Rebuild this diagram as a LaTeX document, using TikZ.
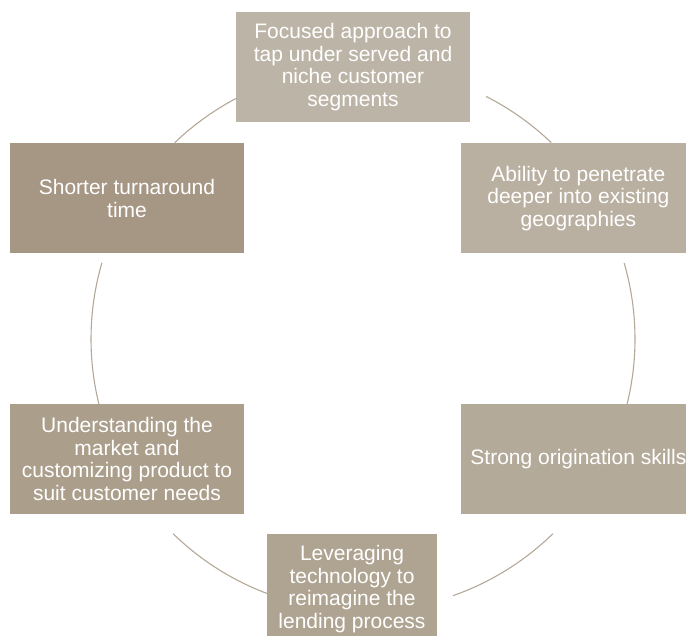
\documentclass[tikz,border=0pt]{standalone}
\usepackage{fontspec}
\setmainfont{Liberation Sans}
\usepackage{tikz}
\usetikzlibrary{positioning}
\usepackage{xcolor}
\definecolor{sand1}{HTML}{BCB4A7}
\definecolor{sand2}{HTML}{B9B0A2}
\definecolor{sand3}{HTML}{B3AA9A}
\definecolor{sand4}{HTML}{AFA492}
\definecolor{sand5}{HTML}{AB9F8C}
\definecolor{sand6}{HTML}{A69684}
\definecolor{ringline}{HTML}{B4A898}

\begin{document}
\begin{tikzpicture}[
    x=1pt,y=1pt,
    node distance=150pt and 217pt,
    card/.style={rectangle,minimum width=234pt,minimum height=110pt,inner sep=0pt,align=center,text=white,font=\fontsize{21}{22.5}\selectfont},
    ring/.style={draw=ringline,line width=1.1pt}
]
\useasboundingbox (0,0) rectangle (686,636);
\clip (0,0) rectangle (686,636);
\coordinate (C) at (363,297);

% ring segments between the cards
\foreach \a/\b in {46.2/63.1,116.8/133.8,163.7/193.8,225.7/249.3,289.3/314.3,346.2/376.2}
  \draw[ring] (C) ++(\a:272) arc[start angle=\a,end angle=\b,radius=272];

\node[card,fill=sand1] (focus) at (353,569) {Focused approach to\\tap under served and\\niche customer\\segments};
\node[card,fill=sand6] (turn) at (127,437.5) {Shorter turnaround\\time};
\node[card,fill=sand2,right=of turn] (reach) {Ability to penetrate\\deeper into existing\\geographies};
\node[card,fill=sand3,below=of reach] (orig) {Strong origination skills};
\node[card,fill=sand5,below=of turn] (market) {Understanding the\\market and\\customizing product to\\suit customer needs};
\node[card,fill=sand4,minimum width=170pt] (tech) at (352,47) {Leveraging\\technology to\\reimagine the\\lending process};
\end{tikzpicture}
\end{document}
